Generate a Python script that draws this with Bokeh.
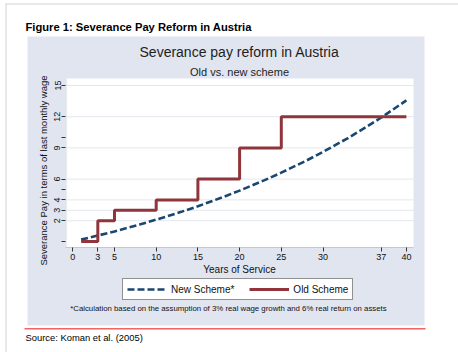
from bokeh.plotting import figure
from bokeh.models import (FixedTicker, Label, BoxAnnotation, Legend, LegendItem,
                          Range1d, LinearAxis)
from bokeh.embed import file_html
from bokeh.resources import INLINE

# ---- data ----
new_years = [1, 3, 5, 8, 10, 13, 15, 18, 20, 23, 25, 28, 30, 33, 35, 37, 40]
new_values = [0.18, 0.57, 0.97, 1.63, 2.10, 2.85, 3.39, 4.27, 4.89, 5.90, 6.62,
              7.78, 8.61, 9.95, 10.92, 11.93, 13.57]
old_years = [1, 3, 5, 10, 15, 20, 25, 40]
old_values = [0, 2, 3, 4, 6, 9, 12, 12]
x_ticks = [0, 3, 5, 10, 15, 20, 25, 30, 37, 40]
y_ticks = [2, 3, 4, 6, 9, 12, 15]
y_minor_ticks = [0, 5, 10]

W, H = 458, 352
# pixel mapping of the data area (canvas px, y from top)
X0, XS = 72.3, 8.34     # x=0 at px 72.3, px per year
Y0, YS = 241.0, 10.4    # y=0 at px 241, px per unit
PL, PR, PT, PB = 65, 413, 78, 247  # white plot region (canvas px)


def X(cx):
    return (cx - X0) / XS


def Y(cy):
    return (Y0 - cy) / YS


def sy(cy):
    return H - cy


FONT = "Liberation Sans"

p = figure(width=W, height=H, output_backend="svg", toolbar_location=None,
           x_axis_type=None, y_axis_type=None,
           x_range=Range1d(X(0), X(W)), y_range=Range1d(Y(H), Y(0)),
           min_border=0)
p.outline_line_color = None
p.background_fill_color = "white"
p.border_fill_color = "white"
p.xgrid.visible = False
p.ygrid.visible = False


def box(l, r, t, b, c, level="underlay"):
    return BoxAnnotation(left=l, right=r, top=sy(t), bottom=sy(b),
                         left_units="screen", right_units="screen",
                         top_units="screen", bottom_units="screen",
                         fill_color=c, fill_alpha=1, line_color=None, level=level)


p.add_layout(box(27, 424, 36, 325, "#e1e5ef"))     # graph region
p.add_layout(box(PL, PR, PT, PB, "white"))          # plot region
p.add_layout(box(PL, PL + 1, PT, PB, "#d3d7df"))    # plot region left edge
p.add_layout(box(5, 6, 3, 352, "#d4d4d4"))          # page border left
p.add_layout(box(5, 458, 3, 4, "#d4d4d4"))          # page border top
p.add_layout(box(24, 425, 327.5, 329, "#f06464"))   # red rule

# grid lines at labelled y ticks
p.segment(x0=X(PL), x1=X(PR), y0=y_ticks, y1=y_ticks, line_color="#e3e7ee",
          line_width=1)

# series
r_new = p.line(new_years, new_values, line_color="#1a476f", line_width=2.6,
               line_dash="7 3")
r_old = p.step(old_years, old_values, mode="after", line_color="#90353b",
               line_width=3)

# axes
xaxis = LinearAxis(fixed_location=Y(PB), bounds=(X(PL), X(PR)),
                   ticker=FixedTicker(ticks=x_ticks), axis_label="Years of Service")
yaxis = LinearAxis(fixed_location=X(PL), bounds=(Y(262), Y(PT)),
                   ticker=FixedTicker(ticks=y_ticks, minor_ticks=y_minor_ticks),
                   axis_label="Severance Pay in terms of last monthly wage")
for ax in (xaxis, yaxis):
    ax.axis_line_color = "#c3c7cf"
    ax.major_tick_line_color = "#333333"
    ax.minor_tick_line_color = "#333333"
    ax.major_tick_out = 4
    ax.major_tick_in = 0
    ax.minor_tick_out = 4
    ax.minor_tick_in = 0
    ax.major_label_text_font = FONT
    ax.major_label_text_font_size = "9px"
    ax.major_label_text_color = "#111111"
    ax.axis_label_text_font = FONT
    ax.axis_label_text_font_style = "normal"
    ax.axis_label_text_color = "#111111"
    ax.major_label_standoff = 2
yaxis.axis_line_color = None
xaxis.axis_label_text_font_size = "10px"
xaxis.axis_label_standoff = 1
yaxis.axis_label_text_font_size = "9.5px"
yaxis.axis_label_standoff = 3
yaxis.major_label_standoff = 1
yaxis.major_label_orientation = "vertical"
p.add_layout(xaxis, "below")
p.add_layout(yaxis, "left")

# legend
legend = Legend(items=[LegendItem(label="New Scheme*", renderers=[r_new]),
                       LegendItem(label="Old Scheme", renderers=[r_old])],
                orientation="horizontal", location=(122, sy(300)),
                border_line_color="#222222", border_line_width=1,
                background_fill_color="white", background_fill_alpha=1,
                padding=4, margin=0, spacing=15, glyph_width=40, glyph_height=12,
                label_standoff=4, label_text_font=FONT, label_text_font_size="10px",
                label_text_color="#111111", label_height=12)
p.add_layout(legend, "center")

# texts
texts = [
    ("Figure 1: Severance Pay Reform in Austria", 25, 26.7, "left", "11.2px", "bold", "#000000"),
    ("Severance pay reform in Austria", 239, 51.5, "center", "14px", "normal", "#1e1e1e"),
    ("Old vs. new scheme", 239, 71, "center", "11px", "normal", "#1e1e1e"),
    ("*Calculation based on the assumption  of 3% real wage growth and 6% real return on assets",
     229, 307.7, "center", "7.8px", "normal", "#111111"),
    ("Source: Koman et al. (2005)", 25, 337, "left", "9.4px", "normal", "#000000"),
]
for (t, cx, cy, al, s, st, col) in texts:
    p.add_layout(Label(x=cx, y=sy(cy), x_units="screen", y_units="screen", text=t,
                       text_align=al, text_baseline="middle", text_font=FONT,
                       text_font_size=s, text_font_style=st, text_color=col))

open("out.html", "w").write(file_html(p, INLINE))
